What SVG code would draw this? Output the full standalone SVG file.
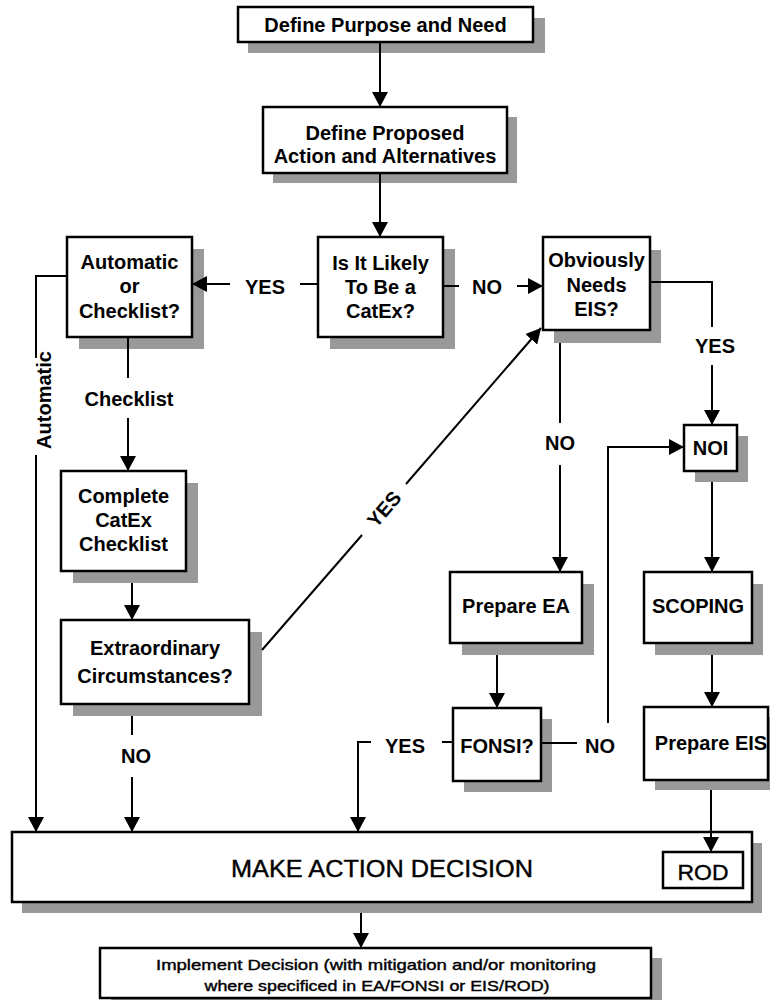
<svg xmlns="http://www.w3.org/2000/svg" width="770" height="1000" viewBox="0 0 770 1000">
<style>
.box{fill:#fff;stroke:#000;stroke-width:2.5}
.sh{fill:#999}
.t{font-family:"Liberation Sans",Arial,sans-serif;font-weight:bold;font-size:20px;text-anchor:middle;fill:#000}
.r{font-family:"Liberation Sans",Arial,sans-serif;font-weight:normal;text-anchor:middle;fill:#000;stroke:#000;stroke-width:0.4}
.ln{fill:none;stroke:#000;stroke-width:2}
.ar{fill:none;stroke:#000;stroke-width:2;marker-end:url(#ah)}
</style>
<defs>
<marker id="ah" markerUnits="userSpaceOnUse" markerWidth="15" markerHeight="16" viewBox="0 0 15 16" refX="15" refY="8" orient="auto">
<path d="M0,0 L15,8 L0,16 Z" fill="#000"/>
</marker>
</defs>
<rect width="770" height="1000" fill="#fff"/>

<g id="n-purpose"><rect class="sh" x="248" y="18" width="297" height="35"/><rect class="box" x="238" y="7" width="295" height="35"/><text class="t" x="385.5" y="32">Define Purpose and Need</text></g>
<g id="n-proposed"><rect class="sh" x="273" y="117" width="244" height="66"/><rect class="box" x="263" y="107" width="244" height="66"/><text class="t" x="385" y="140">Define Proposed</text><text class="t" x="385" y="163">Action and Alternatives</text></g>
<g id="n-likely"><rect class="sh" x="330" y="249" width="125" height="100"/><rect class="box" x="318" y="237" width="125" height="100"/><text class="t" x="380.5" y="270">Is It Likely</text><text class="t" x="380.5" y="294">To Be a</text><text class="t" x="380.5" y="318">CatEx?</text></g>
<g id="n-auto"><rect class="sh" x="79" y="249" width="125" height="100"/><rect class="box" x="67" y="237" width="125" height="100"/><text class="t" x="129.5" y="269">Automatic</text><text class="t" x="129.5" y="293">or</text><text class="t" x="129.5" y="318">Checklist?</text></g>
<g id="n-obvious"><rect class="sh" x="554" y="250" width="107" height="93"/><rect class="box" x="543" y="237" width="107" height="93"/><text class="t" x="596.5" y="267">Obviously</text><text class="t" x="596.5" y="292">Needs</text><text class="t" x="596.5" y="316">EIS?</text></g>
<g id="n-complete"><rect class="sh" x="73" y="483" width="125" height="100"/><rect class="box" x="61" y="471" width="125" height="100"/><text class="t" x="123.5" y="503">Complete</text><text class="t" x="123.5" y="527">CatEx</text><text class="t" x="123.5" y="551">Checklist</text></g>
<g id="n-extra"><rect class="sh" x="73" y="632" width="189" height="84"/><rect class="box" x="61" y="620" width="188" height="84"/><text class="t" x="155" y="655">Extraordinary</text><text class="t" x="155" y="683">Circumstances?</text></g>
<g id="n-noi"><rect class="sh" x="695" y="436" width="53" height="46"/><rect class="box" x="684" y="425" width="53" height="46"/><text class="t" x="710.5" y="455">NOI</text></g>
<g id="n-ea"><rect class="sh" x="462" y="584" width="132" height="71"/><rect class="box" x="450" y="572" width="132" height="71"/><text class="t" x="516" y="613">Prepare EA</text></g>
<g id="n-scoping"><rect class="sh" x="655" y="584" width="108" height="71"/><rect class="box" x="644" y="572" width="108" height="71"/><text class="t" x="698" y="613">SCOPING</text></g>
<g id="n-fonsi"><rect class="sh" x="464" y="719" width="88" height="73"/><rect class="box" x="453" y="708" width="88" height="73"/><text class="t" x="497" y="753">FONSI?</text></g>
<g id="n-eis"><rect class="sh" x="655" y="717" width="125" height="73"/><rect class="box" x="644" y="707" width="124" height="73"/><text class="t" x="711" y="750">Prepare EIS</text></g>
<g id="n-decision"><rect class="sh" x="22" y="843" width="740" height="70"/><rect class="box" x="12" y="832" width="740" height="70"/><text class="r" x="382" y="877" font-size="24" textLength="302" lengthAdjust="spacingAndGlyphs">MAKE  ACTION  DECISION</text>
<rect class="box" x="663" y="852" width="80" height="36"/><text class="r" x="703" y="880" font-size="22" textLength="51" lengthAdjust="spacingAndGlyphs">ROD</text></g>
<g id="n-implement"><rect class="sh" x="111" y="958" width="551" height="45"/><rect class="box" x="100" y="948" width="551" height="50"/><text class="r" x="376" y="970" font-size="15" stroke-width="0.2" textLength="440" lengthAdjust="spacingAndGlyphs">Implement Decision (with mitigation and/or monitoring</text><text class="r" x="377" y="991" font-size="15" stroke-width="0.2" textLength="345" lengthAdjust="spacingAndGlyphs">where specificed in EA/FONSI or EIS/ROD)</text></g>

<g id="connectors">
<line class="ar" x1="380" y1="42" x2="380" y2="107"/>
<line class="ar" x1="380" y1="173" x2="380" y2="237"/>
<line class="ln" x1="318" y1="284" x2="300" y2="284"/>
<text class="t" x="265" y="294">YES</text>
<line class="ar" x1="230" y1="284" x2="192" y2="284"/>
<line class="ln" x1="443" y1="286" x2="459" y2="286"/>
<text class="t" x="487" y="294">NO</text>
<line class="ar" x1="517" y1="286" x2="543" y2="286"/>
<path class="ln" d="M650 282 H712 V327"/>
<text class="t" x="715" y="353">YES</text>
<line class="ar" x1="712" y1="365" x2="712" y2="425"/>
<line class="ln" x1="560" y1="343" x2="560" y2="423"/>
<text class="t" x="560" y="450">NO</text>
<line class="ar" x1="560" y1="465" x2="560" y2="572"/>
<line class="ar" x1="712" y1="482" x2="712" y2="572"/>
<line class="ar" x1="712" y1="655" x2="712" y2="707"/>
<line class="ar" x1="497" y1="655" x2="497" y2="708"/>
<line class="ln" x1="541" y1="743" x2="577" y2="743"/>
<text class="t" x="600" y="753">NO</text>
<path class="ar" d="M608 723 V447 H684"/>
<line class="ln" x1="453" y1="742" x2="442" y2="742"/>
<text class="t" x="405" y="753">YES</text>
<path class="ar" d="M371 742 H358 V832"/>
<line class="ar" x1="711" y1="790" x2="711" y2="852" stroke-width="1.5"/>
<path class="ln" d="M67 276 H36 V358"/>
<text class="t" transform="translate(51,400) rotate(-90)" x="0" y="0">Automatic</text>
<line class="ar" x1="36" y1="455" x2="36" y2="832"/>
<line class="ln" x1="128" y1="337" x2="128" y2="378"/>
<text class="t" x="129" y="406">Checklist</text>
<line class="ar" x1="128" y1="418" x2="128" y2="471"/>
<line class="ar" x1="132" y1="583" x2="132" y2="620"/>
<line class="ln" x1="132" y1="716" x2="132" y2="735"/>
<text class="t" x="136" y="763">NO</text>
<line class="ar" x1="132" y1="777" x2="132" y2="832"/>
<line class="ln" x1="262" y1="650" x2="362" y2="535"/>
<text class="t" transform="translate(384,509) rotate(-49)" x="0" y="7">YES</text>
<line class="ar" x1="406" y1="484" x2="541" y2="328"/>
<line class="ar" x1="361" y1="913" x2="361" y2="948"/>
</g>
</svg>
